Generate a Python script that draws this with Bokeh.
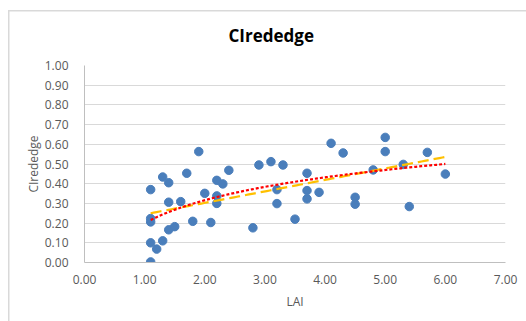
import numpy as np
from bokeh.plotting import figure
from bokeh.models import FixedTicker, NumeralTickFormatter
from bokeh.embed import file_html
from bokeh.resources import INLINE

# LAI vs CIrededge observations
lai = [1.1, 1.1, 1.1, 1.1, 1.1, 1.2, 1.3, 1.3, 1.4, 1.4, 1.4, 1.5, 1.6, 1.7,
       1.8, 1.9, 2.0, 2.1, 2.2, 2.2, 2.2, 2.3, 2.4, 2.8, 2.9, 3.1, 3.2, 3.2,
       3.3, 3.5, 3.7, 3.7, 3.7, 3.9, 4.1, 4.3, 4.5, 4.5, 4.8, 5.0, 5.0, 5.3,
       5.4, 5.7, 6.0]
ci = [0.37, 0.223, 0.206, 0.10, 0.003, 0.068, 0.434, 0.11, 0.405, 0.306,
      0.166, 0.182, 0.309, 0.453, 0.209, 0.563, 0.351, 0.203, 0.417, 0.338,
      0.300, 0.399, 0.468, 0.176, 0.495, 0.512, 0.370, 0.299, 0.495, 0.220,
      0.453, 0.365, 0.323, 0.356, 0.605, 0.556, 0.331, 0.296, 0.470, 0.635,
      0.563, 0.498, 0.284, 0.559, 0.449]

x_ticks = [0, 1, 2, 3, 4, 5, 6, 7]
y_ticks = [0.0, 0.1, 0.2, 0.3, 0.4, 0.5, 0.6, 0.7, 0.8, 0.9, 1.0]

x = np.array(lai)
y = np.array(ci)

# least-squares trendlines: linear and logarithmic
lin_b, lin_a = np.polyfit(x, y, 1)
log_b, log_a = np.polyfit(np.log(x), y, 1)
xs = np.linspace(x.min(), x.max(), 100)

p = figure(width=526, height=321, output_backend="svg", toolbar_location=None,
           x_range=(0, 7), y_range=(0, 1),
           min_border_left=84, min_border_right=21,
           min_border_top=65, min_border_bottom=59,
           title="CIrededge")
p.outline_line_color = None
p.background_fill_color = "white"
p.border_fill_color = None
# thin chart-area border along the top and left of the canvas
p.styles = {"box-shadow": "inset 8px 10px 0 0 white, inset 9.5px 11.5px 0 0 #d9d9d9",
            "background-color": "white"}

p.title.align = "left"
p.title.offset = 144
p.title.standoff = 37
p.title.text_font = "Open Sans"
p.title.text_font_style = "bold"
p.title.text_font_size = "17px"
p.title.text_color = "#000000"

p.xgrid.visible = False
p.ygrid.grid_line_color = "#d9d9d9"
p.ygrid.grid_line_width = 1

p.xaxis.ticker = FixedTicker(ticks=x_ticks)
p.yaxis.ticker = FixedTicker(ticks=y_ticks)
p.xaxis.formatter = NumeralTickFormatter(format="0.00")
p.yaxis.formatter = NumeralTickFormatter(format="0.00")

for ax in (p.xaxis, p.yaxis):
    ax.major_tick_line_color = None
    ax.minor_tick_line_color = None
    ax.axis_line_color = "#bfbfbf"
    ax.major_label_text_color = "#595959"
    ax.major_label_text_font = "Open Sans"
    ax.major_label_text_font_size = "12px"
    ax.axis_label_text_color = "#595959"
    ax.axis_label_text_font = "Open Sans"
    ax.axis_label_text_font_size = "12px"
    ax.axis_label_text_font_style = "normal"

p.xaxis.axis_label = "LAI"
p.yaxis.axis_label = "CIrededge"
p.xaxis.major_label_standoff = 6
p.yaxis.major_label_standoff = 10
p.xaxis.axis_label_standoff = 6
p.yaxis.axis_label_standoff = 0

p.scatter(lai, ci, size=8.5, color="#4a7ebb", line_color="#4a7ebb")

p.line(xs, lin_a + lin_b * xs, line_color="#ffc000", line_width=2.2,
       line_dash="11 5")
p.line(xs, log_a + log_b * np.log(xs), line_color="#ff0000", line_width=2.2,
       line_dash="3 2")

open("out.html", "w").write(file_html(p, INLINE))
